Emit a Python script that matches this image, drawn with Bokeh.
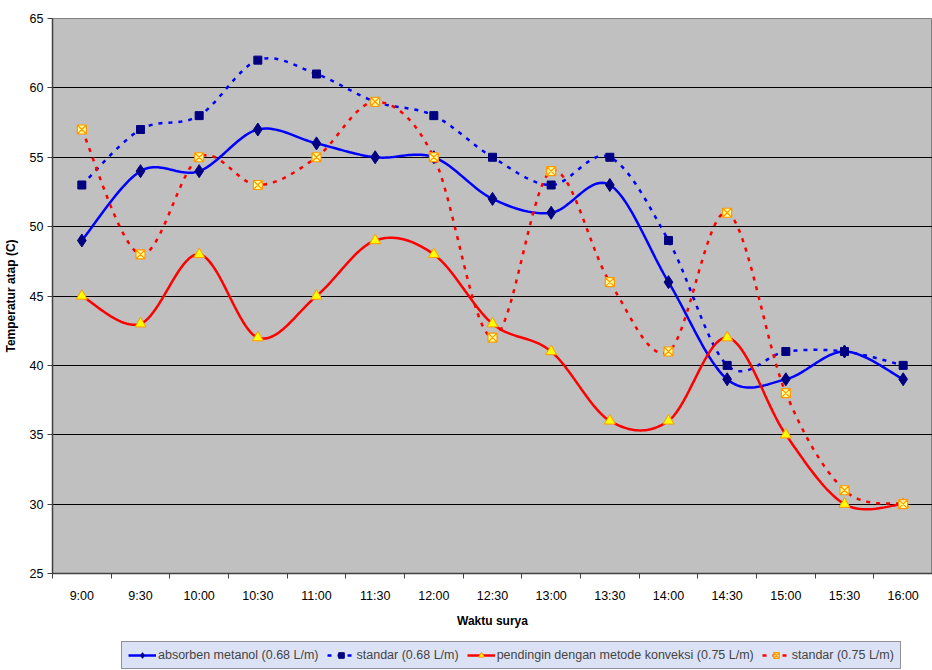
import numpy as np
from bokeh.plotting import figure
from bokeh.layouts import column
from bokeh.models import (FixedTicker, Legend, LegendItem, Range1d)
from bokeh.embed import file_html
from bokeh.resources import INLINE

categories = ["9:00", "9:30", "10:00", "10:30", "11:00", "11:30", "12:00", "12:30",
              "13:00", "13:30", "14:00", "14:30", "15:00", "15:30", "16:00"]
absorben_068 = [49, 54, 54, 57, 56, 55, 55, 52, 51, 53, 46, 39, 39, 41, 39]
standar_068 = [53, 57, 58, 62, 61, 59, 58, 55, 53, 55, 49, 40, 41, 41, 40]
pendingin_075 = [45, 43, 48, 42, 45, 49, 48, 43, 41, 36, 36, 42, 35, 30, 30]
standar_075 = [57, 48, 55, 53, 55, 59, 55, 42, 54, 46, 41, 51, 38, 31, 30]
y_ticks = [25, 30, 35, 40, 45, 50, 55, 60, 65]
series_labels = ["absorben metanol (0.68 L/m)", "standar (0.68 L/m)",
                 "pendingin dengan metode konveksi (0.75 L/m)", "standar (0.75 L/m)"]

FONT = "Liberation Sans"


def smooth(xs, ys, n=24):
    xs = np.asarray(xs, float)
    ys = np.asarray(ys, float)
    m = len(xs)
    px = np.concatenate([[xs[0]], xs, [xs[-1]]])
    py = np.concatenate([[ys[0]], ys, [ys[-1]]])
    ox, oy = [], []
    t = np.linspace(0, 1, n)
    for i in range(m - 1):
        p0x, p1x, p2x, p3x = px[i], px[i + 1], px[i + 2], px[i + 3]
        p0y, p1y, p2y, p3y = py[i], py[i + 1], py[i + 2], py[i + 3]
        c1x = p1x + (p2x - p0x) / 6.0
        c1y = p1y + (p2y - p0y) / 6.0
        c2x = p2x - (p3x - p1x) / 6.0
        c2y = p2y - (p3y - p1y) / 6.0
        bx = (1 - t) ** 3 * p1x + 3 * (1 - t) ** 2 * t * c1x + 3 * (1 - t) * t ** 2 * c2x + t ** 3 * p2x
        by = (1 - t) ** 3 * p1y + 3 * (1 - t) ** 2 * t * c1y + 3 * (1 - t) * t ** 2 * c2y + t ** 3 * p2y
        if i > 0:
            bx, by = bx[1:], by[1:]
        ox.extend(bx)
        oy.extend(by)
    return ox, oy


xs = list(range(len(categories)))

# style per series: (line color, dash, marker, size, fill, marker line, marker line width)
styles = [
    ("#0000ff", "solid", "diamond", 13, "#000080", "#000080", 1),
    ("#0000ff", "4 6", "square", 8, "#000080", "#000080", 1),
    ("#ff0000", "solid", "triangle", 11, "#ffff00", "#ff9900", 1),
    ("#ff0000", "4 6", "square_x", 9, "#ffff99", "#ff9900", 1.2),
]
series_values = [absorben_068, standar_068, pendingin_075, standar_075]

p = figure(width=932, height=640, output_backend="svg", toolbar_location=None,
           x_range=Range1d(-0.5, len(categories) - 0.5), y_range=Range1d(25, 65),
           min_border_left=52, min_border_right=0, min_border_top=18, min_border_bottom=67,
           border_fill_color="white")
p.outline_line_color = "#808080"
p.outline_line_width = 1
p.background_fill_color = "#c0c0c0"

# axes
p.xaxis.ticker = FixedTicker(ticks=xs, minor_ticks=[i - 0.5 for i in range(len(categories) + 1)])
p.xaxis.major_label_overrides = {i: c for i, c in enumerate(categories)}
p.xaxis.major_tick_out = 0
p.xaxis.major_tick_in = 0
p.xaxis.minor_tick_out = 5
p.xaxis.minor_tick_in = 0
p.xaxis.minor_tick_line_color = "#404040"
p.xaxis.axis_line_color = "#404040"
p.xaxis.axis_line_width = 1.5
p.xaxis.major_label_standoff = 10
p.xaxis.axis_label = "Waktu surya"
p.xaxis.axis_label_standoff = 8

p.yaxis.ticker = FixedTicker(ticks=y_ticks)
p.yaxis.major_tick_out = 5
p.yaxis.major_tick_in = 0
p.yaxis.minor_tick_line_color = None
p.yaxis.major_tick_line_color = "#404040"
p.yaxis.axis_line_color = "#404040"
p.yaxis.axis_line_width = 1.5
p.yaxis.major_label_standoff = 4
p.yaxis.axis_label = "Temperatur atap (C)"
p.yaxis.axis_label_standoff = 9

for ax in (p.xaxis, p.yaxis):
    ax.major_label_text_font = FONT
    ax.major_label_text_font_size = "12.5px"
    ax.major_label_text_color = "black"
    ax.axis_label_text_font = FONT
    ax.axis_label_text_font_size = "12px"
    ax.axis_label_text_font_style = "bold"
    ax.axis_label_text_color = "black"

p.xgrid.grid_line_color = None
p.ygrid.grid_line_color = "black"
p.ygrid.grid_line_width = 1.2
p.ygrid.ticker = FixedTicker(ticks=[30, 35, 40, 45, 50, 55, 60])

for vals, (lc, dash, mk, sz, fc, mlc, mlw) in zip(series_values, styles):
    sx, sy = smooth(xs, vals)
    p.line(sx, sy, line_color=lc, line_width=2.5, line_dash=dash)
    p.scatter(xs, vals, marker=mk, size=sz, fill_color=fc, line_color=mlc, line_width=mlw)

# legend strip below the chart
lg = figure(width=932, height=30, output_backend="svg", toolbar_location=None,
            x_axis_location=None, y_axis_location=None,
            min_border=0, min_border_left=0, min_border_right=0, min_border_top=0, min_border_bottom=0,
            x_range=Range1d(0, 1), y_range=Range1d(0, 1),
            border_fill_color="white", background_fill_color="white")
lg.grid.grid_line_color = None
lg.outline_line_color = None

items = []
for label, (lc, dash, mk, sz, fc, mlc, mlw) in zip(series_labels, styles):
    # off-screen placeholder renderers so the legend can draw each glyph sample
    r1 = lg.line([5, 6], [5, 6], line_color=lc, line_width=2.5, line_dash=dash)
    r2 = lg.scatter([5], [5], marker=mk, size=sz, fill_color=fc, line_color=mlc, line_width=mlw)
    items.append(LegendItem(label=label, renderers=[r1, r2]))

legend = Legend(items=items, orientation="horizontal", location=(69, 1),
                label_text_font=FONT, label_text_font_size="12.5px",
                glyph_width=28, glyph_height=14, label_standoff=2, spacing=8,
                padding=6, margin=0,
                background_fill_color="#dce2f5", background_fill_alpha=1,
                border_line_color="#404040", border_line_width=1)
lg.add_layout(legend, "center")

layout = column(p, lg, spacing=0)
open("out.html", "w").write(file_html(layout, INLINE))
